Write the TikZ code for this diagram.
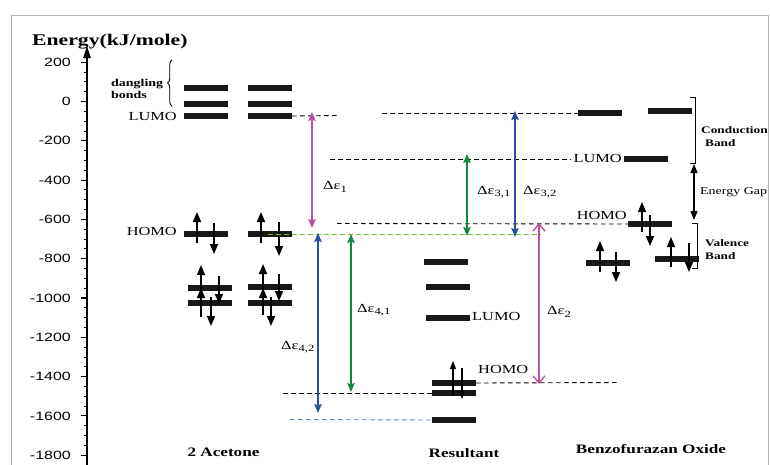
\documentclass[tikz,border=0pt]{standalone}
\usepackage{fontspec}
\setmainfont[FakeStretch=1.33]{Liberation Serif}
\newfontfamily\axfont[FakeStretch=1.33]{Liberation Sans}
\usetikzlibrary{arrows.meta,decorations.pathreplacing}
\definecolor{pinkc}{HTML}{BF4F9F}
\definecolor{greenc}{HTML}{13893F}
\definecolor{bluec}{HTML}{2C4E9E}
\definecolor{lgreen}{HTML}{6CC035}
\definecolor{lblue}{HTML}{5C7FC6}
\newcommand{\fs}[1]{\fontsize{#1}{#1}\selectfont}
\newcommand{\de}[1]{Δε\raisebox{-0.45ex}{\fontsize{9.5}{10}\selectfont #1}}
\begin{document}
\begin{tikzpicture}[x=1pt,y=-1pt,
  bar/.style={fill=black!90, draw=none, minimum width=44pt, minimum height=6pt, inner sep=0pt},
  lbl/.style={inner sep=0pt, font=\fs{12.3}},
  blbl/.style={inner sep=0pt, font=\bfseries\fs{12.9}},
  bandlbl/.style={inner sep=0pt, font=\bfseries\fs{10}},
  ticklbl/.style={inner sep=0pt, anchor=east, font=\axfont\fs{12}},
  spin/.style={line width=1.5pt, -{Triangle[length=10pt,width=8pt]}},
  sspin/.style={line width=1.3pt, -{Triangle[length=8pt,width=6pt]}},
  lev/.style={dash pattern=on 4.5pt off 3.5pt, line width=0.9pt},
  darrow/.style={line width=1.5pt, {Stealth[length=9pt,width=7.5pt,inset=1.5pt]}-{Stealth[length=9pt,width=7.5pt,inset=1.5pt]}},
]
\useasboundingbox (0,0) rectangle (770,464);
% frame
\draw[black!30, line width=1pt] (11,480) -- (11,15) -- (768,15) -- (768,480);
% axis
\draw[line width=2.2pt, -{Triangle[length=12pt,width=7pt]}] (87,475) -- (87,46);
\foreach \e in {200,150,...,-1800}{
  \pgfmathsetmacro{\yy}{101.5-0.1965*\e}
  \pgfmathtruncatemacro{\mm}{mod(abs(\e),200)}
  \ifnum\mm=0
    \draw[line width=1.1pt] (81,\yy) -- (87,\yy);
  \else
    \draw[line width=0.9pt] (84,\yy) -- (87,\yy);
  \fi
}
\foreach \e in {200,0,-200,-400,-600,-800,-1000,-1200,-1400,-1600,-1800}{
  \pgfmathsetmacro{\yy}{101.5-0.1965*\e}
  \node[ticklbl] (t\e) at (71,\yy) {\e};
}
\node[inner sep=0pt, anchor=base west, font=\bfseries\fs{16.3}] (ylab) at (32,45) {Energy(kJ/mole)};

% ---------- 2 Acetone ----------
\node[bar] (a1d1) at (206,88) {};
\node[bar] (a1d2) at (206,103.5) {};
\node[bar] (a1L) at (206,116) {};
\node[bar] (a1H) at (206,234) {};
\node[bar] (a1B1) at (210,288) {};
\node[bar] (a1B2) at (210,303) {};
\node[bar] (a2d1) at (270,88) {};
\node[bar] (a2d2) at (270,103.5) {};
\node[bar] (a2L) at (270,116) {};
\node[bar] (a2H) at (270,234) {};
\node[bar] (a2B1) at (270,287) {};
\node[bar] (a2B2) at (270,303) {};
\draw[spin] (197,243) -- (197,212);
\draw[spin] (214,223) -- (214,254);
\draw[spin] (201,300) -- (201,265);
\draw[spin] (219,276) -- (219,304);
\draw[spin] (201,317) -- (201,288);
\draw[spin] (211,297) -- (211,326);
\draw[spin] (261,243) -- (261,212);
\draw[spin] (279,222) -- (279,256);
\draw[spin] (263,300) -- (263,264);
\draw[spin] (279,274) -- (279,301);
\draw[spin] (263,315) -- (263,288);
\draw[spin] (271,297) -- (271,326);
\draw[line width=0.9pt, decorate, decoration={brace, amplitude=4.5pt}] (172,106) -- (172,60);
\node[inner sep=0pt, anchor=west, align=left, font=\bfseries\fontsize{10.5}{12.5}\selectfont] (dang) at (111,89) {dangling\\bonds};
\node[lbl, anchor=east] (aLlbl) at (177,116) {LUMO};
\node[lbl, anchor=east] (aHlbl) at (177,231) {HOMO};
\node[blbl] (acet) at (223.5,452.5) {2 Acetone};

% ---------- Resultant ----------
\node[bar] (r1) at (446,262) {};
\node[bar] (r2) at (448,287) {};
\node[bar] (rL) at (448,318) {};
\node[bar] (rH1) at (454,383) {};
\node[bar] (rH2) at (454,393) {};
\node[bar] (rB) at (454,420) {};
\draw[sspin] (453,396) -- (453,361);
\draw[sspin] (462,368) -- (462,399);
\node[lbl, anchor=west] (rLlbl) at (472,316) {LUMO};
\node[lbl, anchor=west] (rHlbl) at (478,369) {HOMO};
\node[blbl] (res) at (464,453) {Resultant};

% ---------- Benzofurazan Oxide ----------
\node[bar] (b1) at (600,113) {};
\node[bar] (b2) at (670,111) {};
\node[bar] (bL) at (646,159) {};
\node[bar] (bH) at (650,224) {};
\node[bar] (bB1) at (608,263) {};
\node[bar] (bB2) at (677,259) {};
\draw[spin] (642,232) -- (642,202);
\draw[spin] (650,215) -- (650,246);
\draw[spin] (600,272) -- (600,241);
\draw[spin] (616,252) -- (616,282);
\draw[spin] (671,267) -- (671,237);
\draw[spin] (689,243) -- (689,272);
\node[lbl, anchor=east] (bLlbl) at (622,158) {LUMO};
\node[lbl, anchor=east] (bHlbl) at (627,215) {HOMO};
\node[blbl] (benz) at (651,449.5) {Benzofurazan Oxide};
% band brackets
\draw[line width=1pt] (690,97) -- (695,97) -- (695,163) -- (690,163);
\draw[line width=1pt] (692,223) -- (697,223) -- (697,268) -- (692,268);
\coordinate (gT) at (694,164);
\coordinate (gB) at (694,220);
\draw[line width=1.3pt, {Triangle[length=9pt,width=7pt]}-{Triangle[length=9pt,width=7pt]}] (gT) -- (gB);
\node[bandlbl, anchor=west] (cb1) at (701,130) {Conduction};
\node[bandlbl, anchor=west] (cb2) at (705,143) {Band};
\node[inner sep=0pt, anchor=west, font=\fs{10.5}] (eg) at (700,192) {Energy Gap};
\node[bandlbl, anchor=west] (vb1) at (705,243) {Valence};
\node[bandlbl, anchor=west] (vb2) at (705,256) {Band};

% ---------- dashed level lines ----------
\coordinate (cA) at (337,115.5);
\draw[lev] (a2L.east) -- (cA);
\coordinate (cB) at (382,113);
\draw[lev] (cB) -- (b1.west);
\coordinate (cC) at (330,159);
\coordinate (cC2) at (571,159);
\draw[lev] (cC) -- (cC2);
\coordinate (cD) at (337,223.5);
\draw[lev] (cD) -- (bH.west);
\coordinate (g0) at (268,234);
\coordinate (g1) at (541,234);
\draw[lev, lgreen] (g0) -- (g1);
\coordinate (cE) at (283,393);
\draw[lev] (cE) -- (rH2.west);
\coordinate (cF) at (290,419.5);
\draw[lev, lblue] (cF) -- (rB.west);
\coordinate (cG) at (620,382.5);
\draw[lev] (rH1.east) -- (cG);

% ---------- transition arrows ----------
\coordinate (e1t) at (312,112);
\coordinate (e1b) at (312,228);
\draw[darrow, pinkc] (e1t) -- (e1b);
\node[lbl, anchor=west] (l1) at (323,187) {\de{1}};
\coordinate (e42t) at (318,233);
\coordinate (e42b) at (318,413);
\draw[darrow, bluec] (e42t) -- (e42b);
\node[lbl, anchor=west] (l42) at (281,347) {\de{4,2}};
\coordinate (e41t) at (351,234);
\coordinate (e41b) at (351,392);
\draw[darrow, greenc] (e41t) -- (e41b);
\node[lbl, anchor=west] (l41) at (357,310) {\de{4,1}};
\coordinate (e31t) at (467,154);
\coordinate (e31b) at (467,236);
\draw[darrow, greenc] (e31t) -- (e31b);
\node[lbl, anchor=west] (l31) at (477,192) {\de{3,1}};
\coordinate (e32t) at (515,111);
\coordinate (e32b) at (515,237);
\draw[darrow, bluec] (e32t) -- (e32b);
\node[lbl, anchor=west] (l32) at (523,192) {\de{3,2}};
\coordinate (e2t) at (539,223);
\coordinate (e2b) at (539,384);
\draw[line width=1.4pt, pinkc, {Straight Barb[length=7pt,width=12pt]}-{Straight Barb[length=7pt,width=12pt]}] (e2t) -- (e2b);
\node[lbl, anchor=west] (l2) at (547,312) {\de{2}};
\end{tikzpicture}
\end{document}
